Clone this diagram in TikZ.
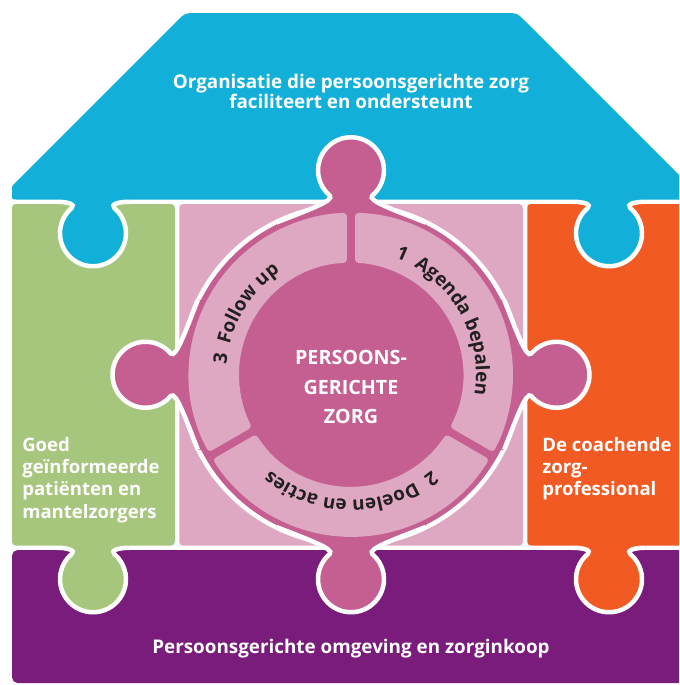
\documentclass[tikz,border=0pt]{standalone}
\usepackage{fontspec}
\setmainfont{Open Sans}
\usetikzlibrary{calc,decorations.text}

\definecolor{roofblue}{RGB}{18,176,216}
\definecolor{leafgreen}{RGB}{166,198,125}
\definecolor{flameorange}{RGB}{241,90,35}
\definecolor{plum}{RGB}{122,28,123}
\definecolor{rosedark}{RGB}{197,95,146}
\definecolor{roselight}{RGB}{222,168,194}
\definecolor{ink}{RGB}{35,31,32}

\begin{document}
\begin{tikzpicture}[x=0.025cm, y=-0.025cm,
    seam/.style={white, line width=3.2pt},
    tile/.style={rounded corners=2.5pt},
    bigLabel/.style={text=white, font=\bfseries\fontsize{13.4}{14.3}\selectfont, align=center, inner sep=0pt},
    sideLabel/.style={text=white, font=\bfseries\fontsize{13.2}{15.8}\selectfont, align=left, inner sep=0pt, anchor=north west},
    coreLabel/.style={text=white, font=\bfseries\fontsize{14}{21.3}\selectfont, align=center, inner sep=0pt},
    ringLabel/.style={decorate, decoration={text along path, text align=center, text color=ink,
        text={|\bfseries\fontsize{13.4}{15}\selectfont|#1}}},
    % puzzle knob sitting on a straight seam
    pics/knob/.style={code={
        \fill[#1] (-36,-5) -- (-36,0) .. controls (-26,0) and (-17,2.5) .. (-21.2,6.2)
            arc[start angle=230, end angle=-50, radius=33]
            .. controls (17,2.5) and (26,0) .. (36,0) -- (36,-5) -- cycle;
        \draw[seam] (-36,0) .. controls (-26,0) and (-17,2.5) .. (-21.2,6.2)
            arc[start angle=230, end angle=-50, radius=33]
            .. controls (17,2.5) and (26,0) .. (36,0);
    }},
    % knob growing out of the round centre piece
    pics/stem/.style={code={
        \fill[#1] (-75,-20.9) .. controls (-45,-9) and (-16,1) .. (-21.2,6.2)
            arc[start angle=230, end angle=-50, radius=33]
            .. controls (16,1) and (45,-9) .. (75,-20.9) -- (75,-45) -- (-75,-45) -- cycle;
        \draw[seam] (-75,-20.9) .. controls (-45,-9) and (-16,1) .. (-21.2,6.2)
            arc[start angle=230, end angle=-50, radius=33]
            .. controls (16,1) and (45,-9) .. (75,-20.9);
    }}]

    \useasboundingbox (0,0) rectangle (679,685);
    \clip (0,0) rectangle (679,685);

    % Roof
    \fill[roofblue] (16,199.5) .. controls (12,199.5) .. (12,195) -- (12,190)
        .. controls (12,186) .. (15,183) -- (177,21) .. controls (185,13) .. (196,13)
        -- (506,13) .. controls (517,13) .. (525,21) -- (687,183)
        .. controls (690,186) .. (690,190) -- (690,195) .. controls (690,199.5) .. (686,199.5) -- cycle;

    % Walls and floor
    \fill[leafgreen, tile] (12,204) rectangle (174.75,545.5);
    \fill[roselight, tile] (179.25,204) rectangle (522.75,545.5);
    \fill[flameorange, tile] (527.25,204) rectangle (690,545.5);
    \fill[plum, rounded corners=4pt] (12,550) rectangle (690,683);

    % Knobs between the outer pieces
    \pic at (93,201.75) {knob=roofblue};
    \pic at (609,201.75) {knob=roofblue};
    \pic at (93,547.75) {knob=leafgreen};
    \pic at (609,547.75) {knob=flameorange};

    % Centre piece
    \coordinate (ctr) at (351,374.75);
    \fill[rosedark] (ctr) circle[radius=170];
    \draw[seam] (ctr) circle[radius=170];
    \pic[rotate=180] at (351,201.75) {stem=rosedark};
    \pic at (351,547.75) {stem=rosedark};
    \pic[rotate=-90] at (177,374.75) {stem=rosedark};
    \pic[rotate=90] at (525,374.75) {stem=rosedark};

    % Three steps around the core
    \foreach \a in {-90,30,150}{
        \fill[roselight, rounded corners=2.5pt] ($(ctr)+({\a+1.42}:162)$)
            arc[start angle=\a+1.42, end angle=\a+118.58, radius=162]
            -- ($(ctr)+({\a+117.95}:112)$)
            arc[start angle=\a+117.95, end angle=\a+2.05, radius=112] -- cycle;
    }
    \path[ringLabel={1 {\ }Agenda bepalen}] ($(ctr)+(-90:125)$) arc[start angle=-90, end angle=30, radius=125];
    \path[ringLabel={2 {\ }Doelen en acties}] ($(ctr)+(30:125)$) arc[start angle=30, end angle=150, radius=125];
    \path[ringLabel={3 {\ }Follow up}] ($(ctr)+(150:125)$) arc[start angle=150, end angle=270, radius=125];

    % Labels
    \node[bigLabel] (roofText) at (351,91) {Organisatie die persoonsgerichte zorg\\faciliteert en ondersteunt};
    \node[bigLabel] (floorText) at (351,649) {Persoonsgerichte omgeving en zorginkoop};
    \node[sideLabel] (patientText) at (22,437) {Goed\\geïnformeerde\\patiënten en\\mantelzorgers};
    \node[sideLabel] (proText) at (542,437) {De coachende\\zorg-\\professional};
    \node[coreLabel] (coreText) at (351,387) {PERSOONS-\\GERICHTE\\ZORG};
\end{tikzpicture}
\end{document}
